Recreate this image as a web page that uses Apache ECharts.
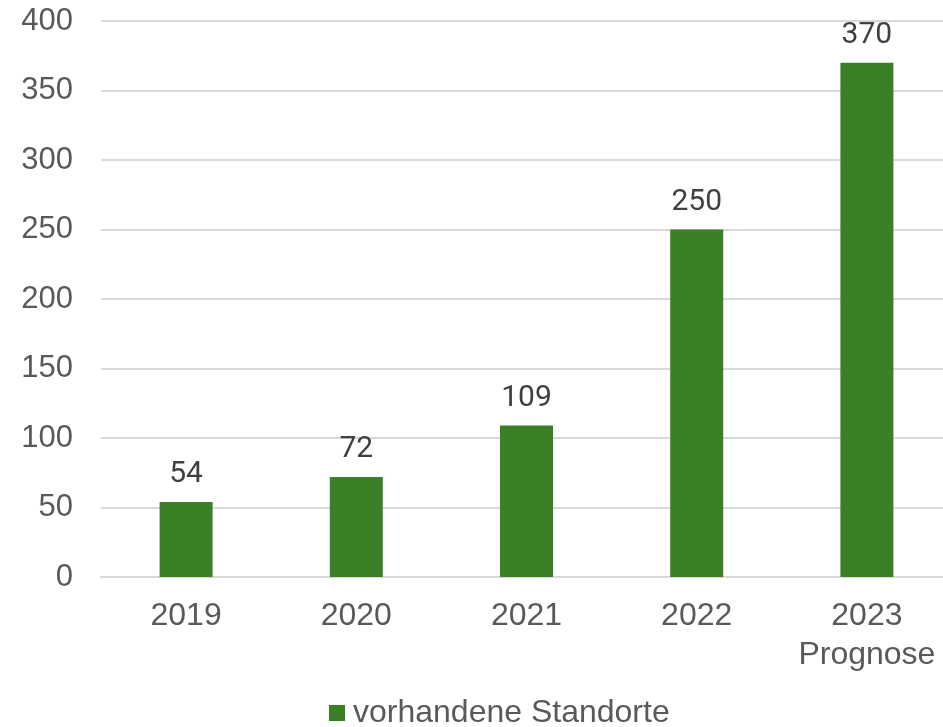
<!DOCTYPE html>
<html>
<head>
<meta charset="utf-8">
<script src="https://cdn.jsdelivr.net/npm/echarts@6/dist/echarts.min.js"></script>
<style>
  html, body { margin: 0; padding: 0; background: #fff; }
  #main { width: 943px; height: 727px; }
</style>
</head>
<body>
<div id="main"></div>
<script>
// Daten
var jahre = ['2019', '2020', '2021', '2022', '2023\nPrognose'];
var standorte = [54, 72, 109, 250, 370];
var serienName = 'vorhandene Standorte';

var chart = echarts.init(document.getElementById('main'));

var option = {
    animation: false,
    backgroundColor: '#ffffff',
    grid: {
        left: 101,
        width: 851,
        top: 21,
        bottom: 150,
        outerBoundsMode: 'none',
        containLabel: false
    },
    legend: {
        data: [serienName],
        top: 692,
        left: 324,
        icon: 'rect',
        itemWidth: 16,
        itemHeight: 16,
        itemGap: 10,
        textStyle: {
            fontFamily: 'Liberation Sans',
            fontSize: 32,
            color: '#595959',
            padding: [0, 0, 0, 3]
        }
    },
    xAxis: {
        type: 'category',
        data: jahre,
        axisTick: { show: false },
        axisLine: { lineStyle: { color: '#d9d9d9', width: 2 } },
        axisLabel: {
            interval: 0,
            margin: 20,
            fontFamily: 'Liberation Sans',
            fontSize: 32,
            lineHeight: 39,
            color: '#595959'
        }
    },
    yAxis: {
        type: 'value',
        min: 0,
        max: 400,
        interval: 50,
        axisLine: { show: false },
        axisTick: { show: false },
        splitLine: { lineStyle: { color: '#d9d9d9', width: 2 } },
        axisLabel: {
            margin: 28,
            fontFamily: 'Liberation Sans',
            fontSize: 31,
            color: '#595959'
        }
    },
    series: [{
        name: serienName,
        type: 'bar',
        data: standorte,
        barWidth: 53,
        itemStyle: { color: '#3b7f26' },
        label: {
            show: true,
            position: 'top',
            distance: 12,
            fontFamily: 'Roboto',
            fontSize: 30,
            color: '#404040'
        }
    }]
};

chart.setOption(option);
</script>
</body>
</html>
